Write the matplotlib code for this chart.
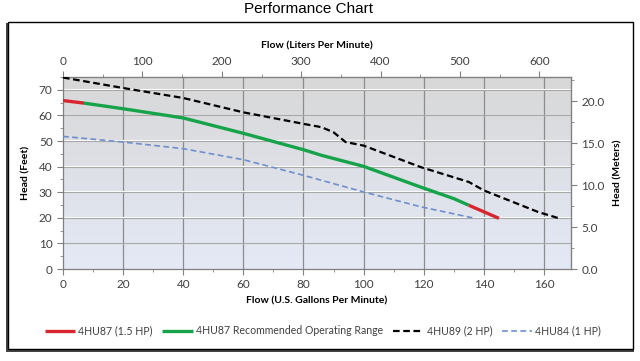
import numpy as np
import matplotlib
matplotlib.use('Agg')
import matplotlib.pyplot as plt
from matplotlib.patches import Rectangle
from matplotlib.ticker import MultipleLocator, FormatStrFormatter

# curves (flow in US gpm, head in feet)
hu87_low_gpm = [0, 7]
hu87_low_ft = [65.8, 64.8]
hu87_rec_gpm = [7, 20, 40, 60, 80, 86, 100, 119, 130, 135]
hu87_rec_ft = [64.8, 62.6, 59.0, 53.0, 46.6, 44.4, 40.1, 32.0, 27.5, 24.9]
hu87_high_gpm = [135, 145]
hu87_high_ft = [24.9, 19.8]
hu89_gpm = [0, 20, 40, 60, 80, 86, 90, 94, 100, 119, 135, 140, 158, 165]
hu89_ft = [74.8, 70.7, 66.8, 61.2, 56.7, 55.4, 53.4, 49.6, 48.2, 39.8, 34.0, 30.7, 22.3, 19.8]
hu84_gpm = [0, 20, 40, 60, 80, 100, 119, 137]
hu84_ft = [51.8, 49.6, 47.0, 42.7, 36.6, 30.1, 24.3, 19.8]

labels = ['4HU87 (1.5 HP)', '4HU87 Recommended Operating Range',
          '4HU89 (2 HP)', '4HU84 (1 HP)']

GPM_TO_LPM = 3.785
FT_TO_M = 0.3048
XMAX, YMAX = 169, 75

plt.rcParams['font.family'] = ['Lato', 'DejaVu Sans']
tick_col = '#404040'

fig = plt.figure(figsize=(6.4, 3.61), dpi=100)

# outer frame with a dark shadow at left and bottom
fig.patches.append(Rectangle((6 / 640, 1 - 352 / 361), 628 / 640, 329 / 361,
                             transform=fig.transFigure, facecolor='#444444',
                             edgecolor='none', zorder=-3))
fig.patches.append(Rectangle((8 / 640, 1 - 349 / 361), 625 / 640, 327 / 361,
                             transform=fig.transFigure, facecolor='white',
                             edgecolor='black', lw=1.0, zorder=-2))

fig.text(308 / 640, 1 - 9 / 361, 'Performance Chart', ha='center', va='center',
         fontsize=11, family=['Liberation Sans', 'DejaVu Sans'])

ax = fig.add_axes([63 / 640, 1 - 269 / 361, 508 / 640, 192 / 361])

# gradient background
top = np.array([216, 216, 216]) / 255
bot = np.array([228, 233, 246]) / 255
t = np.linspace(0, 1, 256)[:, None]
grad = (top * (1 - t) + bot * t)[:, None, :].repeat(2, axis=1)
ax.imshow(grad, extent=[0, XMAX, 0, YMAX], aspect='auto', zorder=0)

ax.set_xlim(0, XMAX)
ax.set_ylim(0, YMAX)
ax.xaxis.set_major_locator(MultipleLocator(20))
ax.xaxis.set_minor_locator(MultipleLocator(10))
ax.yaxis.set_major_locator(MultipleLocator(10))
ax.yaxis.set_minor_locator(MultipleLocator(5))
for v in range(20, XMAX, 20):
    ax.axvline(v, color='#8c8c8c', lw=0.9, zorder=1)
for v in range(10, YMAX, 10):
    ax.axhline(v + 0.35, color='white', lw=0.8, zorder=1)
    ax.axhline(v, color='#a8a8a8', lw=0.8, zorder=1)

ax.plot(hu89_gpm, hu89_ft, color='black', lw=1.6, ls=(0, (3, 1.6)), zorder=3,
        label=labels[2])
ax.plot(hu84_gpm, hu84_ft, color='#6f8fcc', lw=1.2, ls=(0, (3.5, 2)), zorder=3,
        label=labels[3])
ax.plot(hu87_rec_gpm, hu87_rec_ft, color='#17a34a', lw=2.4, zorder=4,
        solid_capstyle='butt', label=labels[1])
ax.plot(hu87_low_gpm, hu87_low_ft, color='#d9262e', lw=2.4, zorder=4,
        solid_capstyle='butt', label=labels[0])
ax.plot(hu87_high_gpm, hu87_high_ft, color='#d9262e', lw=2.4, zorder=4,
        solid_capstyle='butt')

for s in ax.spines.values():
    s.set_color('#808080')
    s.set_linewidth(0.9)
ax.tick_params(which='both', colors='#808080', labelcolor=tick_col, labelsize=8.5)
ax.tick_params(which='major', length=4)
ax.tick_params(which='minor', length=2.5)
ax.set_xlabel('Flow (U.S. Gallons Per Minute)', fontsize=7.5, fontweight='bold',
              labelpad=4)
ax.set_ylabel('Head (Feet)', fontsize=7.5, fontweight='bold', labelpad=6)

# liters per minute on top
axt = ax.secondary_xaxis('top', functions=(lambda x: x * GPM_TO_LPM,
                                           lambda x: x / GPM_TO_LPM))
axt.xaxis.set_major_locator(MultipleLocator(100))
axt.xaxis.set_minor_locator(MultipleLocator(50))
axt.tick_params(which='both', colors='#808080', labelcolor=tick_col, labelsize=8.5)
axt.tick_params(which='major', length=4)
axt.tick_params(which='minor', length=2.5)
axt.spines['top'].set_color('#808080')
axt.set_xlabel('Flow (Liters Per Minute)', fontsize=7.5, fontweight='bold', labelpad=5)

# meters on right
axr = ax.secondary_yaxis('right', functions=(lambda y: y * FT_TO_M,
                                             lambda y: y / FT_TO_M))
axr.yaxis.set_major_locator(MultipleLocator(5))
axr.yaxis.set_minor_locator(MultipleLocator(2.5))
axr.yaxis.set_major_formatter(FormatStrFormatter('%.1f'))
axr.tick_params(which='both', colors='#808080', labelcolor=tick_col, labelsize=8.5)
axr.tick_params(which='major', length=4)
axr.tick_params(which='minor', length=2.5)
axr.spines['right'].set_color('#808080')
axr.set_ylabel('Head (Meters)', fontsize=7.5, fontweight='bold', labelpad=6)

handles, labs = ax.get_legend_handles_labels()
order = [labs.index(l) for l in labels]
leg = fig.legend([handles[i] for i in order], [labs[i] for i in order],
                 loc='center', bbox_to_anchor=(323 / 640, 1 - 331 / 361), ncol=4,
                 frameon=False, fontsize=7.6, handlelength=2.9, columnspacing=0.9,
                 handletextpad=0.3)
for txt in leg.get_texts():
    txt.set_color(tick_col)

fig.savefig('out.png', dpi=100)
